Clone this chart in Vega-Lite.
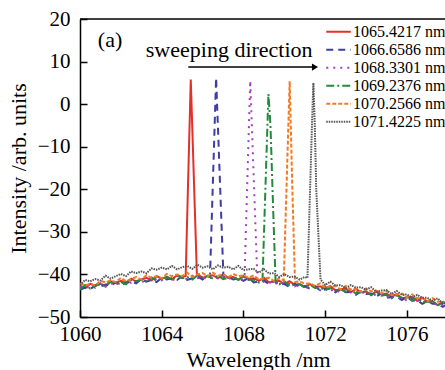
{
 "$schema": "https://vega.github.io/schema/vega-lite/v6.json",
 "width": 365, "height": 298,
 "autosize": {"type": "none"},
 "padding": {"left": 80, "top": 19, "right": 0, "bottom": 53},
 "config": {"font": "Liberation Serif", "view": {"stroke": null}},
 "datasets": {
  "spectra": [
   {"x":1060,"r":-42.7,"b":-43.6,"p":-42.9,"g":-43.5,"o":-42.1,"k":-42.5},
   {"x":1060.25,"r":-43.2,"b":-43.1,"p":-43.2,"g":-42.5,"o":-42.6,"k":-41.3},
   {"x":1060.5,"r":-42.2,"b":-43.5,"p":-42.8,"g":-43.3,"o":-42.2,"k":-41.6},
   {"x":1060.75,"r":-42.7,"b":-42.5,"p":-43.1,"g":-42.7,"o":-42.6,"k":-41.1},
   {"x":1061,"r":-42.2,"b":-42.8,"p":-42.1,"g":-42.2,"o":-41.5,"k":-41.4},
   {"x":1061.25,"r":-42.7,"b":-42.4,"p":-42.9,"g":-42.8,"o":-41.9,"k":-40.3},
   {"x":1061.5,"r":-41.6,"b":-42.7,"p":-42.3,"g":-41.7,"o":-41.4,"k":-41.0},
   {"x":1061.75,"r":-42.0,"b":-41.8,"p":-41.9,"g":-42.3,"o":-41.8,"k":-40.4},
   {"x":1062,"r":-41.5,"b":-42.5,"p":-42.4,"g":-41.8,"o":-40.8,"k":-39.9},
   {"x":1062.25,"r":-41.9,"b":-42.0,"p":-41.4,"g":-42.3,"o":-41.6,"k":-40.4},
   {"x":1062.5,"r":-41.0,"b":-41.6,"p":-42.0,"g":-41.3,"o":-41.1,"k":-39.3},
   {"x":1062.75,"r":-41.7,"b":-42.1,"p":-41.5,"g":-41.6,"o":-40.6,"k":-39.7},
   {"x":1063,"r":-41.2,"b":-41.1,"p":-42.0,"g":-41.2,"o":-41.2,"k":-39.3},
   {"x":1063.25,"r":-40.8,"b":-41.7,"p":-41.0,"g":-41.6,"o":-40.2,"k":-39.7},
   {"x":1063.5,"r":-41.4,"b":-41.3,"p":-41.4,"g":-40.7,"o":-40.8,"k":-38.6},
   {"x":1063.75,"r":-40.4,"b":-41.8,"p":-41.0,"g":-41.5,"o":-40.4,"k":-38.9},
   {"x":1064,"r":-41.0,"b":-40.8,"p":-41.4,"g":-41.0,"o":-40.9,"k":-38.4},
   {"x":1064.25,"r":-40.6,"b":-41.2,"p":-40.5,"g":-40.6,"o":-39.9,"k":-38.8},
   {"x":1064.5,"r":-41.2,"b":-40.9,"p":-41.4,"g":-41.3,"o":-40.4,"k":-38.0},
   {"x":1064.75,"r":-40.2,"b":-41.3,"p":-40.9,"g":-40.3,"o":-40.0,"k":-38.8},
   {"x":1065,"r":-40.6,"b":-40.4,"p":-40.5,"g":-40.9,"o":-40.4,"k":-38.3},
   {"x":1065.17,"r":-40.4},
   {"x":1065.25,"b":-41.3,"p":-41.2,"g":-40.6,"o":-39.6,"k":-38.0},
   {"x":1065.42,"r":5.8},
   {"x":1065.5,"b":-40.9,"p":-40.3,"g":-41.2,"o":-40.5,"k":-38.7},
   {"x":1065.72,"r":-40.2},
   {"x":1065.75,"r":-39.9,"b":-40.5,"p":-40.9,"g":-40.2,"o":-40.0,"k":-37.7},
   {"x":1066,"r":-40.8,"b":-41.2,"p":-40.6,"g":-40.7,"o":-39.7,"k":-38.4},
   {"x":1066.25,"r":-40.4,"b":-40.3,"p":-41.2,"g":-40.4,"o":-40.4,"k":-38.1},
   {"x":1066.36,"b":-40.6},
   {"x":1066.5,"r":-40.2,"p":-40.4,"g":-41.0,"o":-39.6,"k":-38.8},
   {"x":1066.66,"b":6.2},
   {"x":1066.75,"r":-40.9,"p":-40.9,"g":-40.2,"o":-40.3,"k":-37.9},
   {"x":1067,"r":-40.0,"p":-40.6,"g":-41.1,"o":-40.0,"k":-38.4},
   {"x":1067.02,"b":-40.6},
   {"x":1067.25,"r":-40.8,"b":-40.6,"p":-41.2,"g":-40.8,"o":-40.7,"k":-38.2},
   {"x":1067.5,"r":-40.6,"b":-41.2,"p":-40.5,"g":-40.6,"o":-39.9,"k":-38.8},
   {"x":1067.75,"r":-41.2,"b":-40.9,"p":-41.4,"g":-41.3,"o":-40.4,"k":-38.0},
   {"x":1068,"r":-40.4,"b":-41.5,"p":-41.1,"g":-40.5,"o":-40.2,"k":-39.0},
   {"x":1068.05,"p":-40.9},
   {"x":1068.25,"r":-41.0,"b":-40.8,"g":-41.3,"o":-40.8,"k":-38.8},
   {"x":1068.33,"p":5.5},
   {"x":1068.5,"r":-40.9,"b":-41.9,"g":-41.2,"o":-40.2,"k":-38.7},
   {"x":1068.68,"p":-41.1},
   {"x":1068.75,"r":-41.5,"b":-41.6,"p":-41.0,"g":-41.9,"o":-41.2,"k":-39.6},
   {"x":1068.93,"g":-41.3},
   {"x":1069,"r":-40.8,"b":-41.4,"p":-41.8,"o":-40.9,"k":-38.8},
   {"x":1069.22,"g":2.4},
   {"x":1069.25,"r":-41.9,"b":-42.3,"p":-41.7,"o":-40.8,"k":-39.8},
   {"x":1069.32,"g":-5},
   {"x":1069.42,"g":-20},
   {"x":1069.5,"r":-41.6,"b":-41.5,"p":-42.4,"o":-41.6,"k":-39.7},
   {"x":1069.57,"g":-41.7},
   {"x":1069.75,"r":-41.5,"b":-42.4,"p":-41.7,"g":-42.3,"o":-40.9,"k":-40.6},
   {"x":1069.97,"o":-41.4},
   {"x":1070,"r":-42.3,"b":-42.2,"p":-42.3,"g":-41.6,"k":-39.9},
   {"x":1070.25,"r":-41.6,"b":-43.0,"p":-42.2,"g":-42.7,"k":-40.6},
   {"x":1070.26,"o":5.4},
   {"x":1070.38,"o":-18},
   {"x":1070.5,"r":-42.4,"b":-42.2,"p":-42.8,"g":-42.4,"k":-40.5},
   {"x":1070.52,"o":-41.8},
   {"x":1070.75,"r":-42.3,"b":-42.9,"p":-42.2,"g":-42.3,"o":-41.6,"k":-41.2},
   {"x":1071,"r":-43.0,"b":-42.7,"p":-43.2,"g":-43.1,"o":-42.2,"k":-40.6},
   {"x":1071.13,"k":-40.8},
   {"x":1071.25,"r":-42.3,"b":-43.4,"p":-43.0,"g":-42.4,"o":-42.1},
   {"x":1071.35,"k":-5},
   {"x":1071.42,"k":5.0},
   {"x":1071.49,"k":-5},
   {"x":1071.5,"r":-42.9,"b":-42.7,"p":-42.8,"g":-43.2,"o":-42.7},
   {"x":1071.56,"k":-20},
   {"x":1071.75,"r":-42.8,"b":-43.8,"p":-43.7,"g":-43.1,"o":-42.1},
   {"x":1071.77,"k":-41.2},
   {"x":1072,"r":-43.4,"b":-43.5,"p":-42.9,"g":-43.8,"o":-43.1,"k":-42.5},
   {"x":1072.25,"r":-42.7,"b":-43.3,"p":-43.7,"g":-43.0,"o":-42.8,"k":-41.7},
   {"x":1072.5,"r":-43.8,"b":-44.2,"p":-43.6,"g":-43.7,"o":-42.7,"k":-42.6},
   {"x":1072.75,"r":-43.5,"b":-43.4,"p":-44.3,"g":-43.5,"o":-43.5,"k":-42.5},
   {"x":1073,"r":-43.3,"b":-44.2,"p":-43.5,"g":-44.1,"o":-42.7,"k":-43.2},
   {"x":1073.25,"r":-44.2,"b":-44.1,"p":-44.2,"g":-43.5,"o":-43.6,"k":-42.5},
   {"x":1073.5,"r":-43.4,"b":-44.8,"p":-44.0,"g":-44.5,"o":-43.4,"k":-43.1},
   {"x":1073.75,"r":-44.2,"b":-44.0,"p":-44.6,"g":-44.2,"o":-44.1,"k":-43.0},
   {"x":1074,"r":-44.0,"b":-44.6,"p":-43.9,"g":-44.0,"o":-43.3,"k":-43.6},
   {"x":1074.25,"r":-44.8,"b":-44.5,"p":-45.0,"g":-44.9,"o":-44.0,"k":-43.0},
   {"x":1074.5,"r":-44.0,"b":-45.1,"p":-44.7,"g":-44.1,"o":-43.8,"k":-44.1},
   {"x":1074.75,"r":-44.7,"b":-44.5,"p":-44.6,"g":-45.0,"o":-44.5,"k":-43.8},
   {"x":1075,"r":-44.5,"b":-45.5,"p":-45.4,"g":-44.8,"o":-43.8,"k":-43.7},
   {"x":1075.25,"r":-45.2,"b":-45.3,"p":-44.7,"g":-45.6,"o":-44.9,"k":-44.6},
   {"x":1075.5,"r":-44.6,"b":-45.2,"p":-45.6,"g":-44.9,"o":-44.7,"k":-43.9},
   {"x":1075.75,"r":-45.6,"b":-46.0,"p":-45.4,"g":-45.5,"o":-44.5,"k":-44.8},
   {"x":1076,"r":-45.4,"b":-45.3,"p":-46.2,"g":-45.4,"o":-45.4,"k":-44.7},
   {"x":1076.25,"r":-45.3,"b":-46.2,"p":-45.5,"g":-46.1,"o":-44.7,"k":-45.5},
   {"x":1076.5,"r":-46.2,"b":-46.1,"p":-46.2,"g":-45.5,"o":-45.6,"k":-44.8},
   {"x":1076.75,"r":-45.5,"b":-46.9,"p":-46.1,"g":-46.6,"o":-45.5,"k":-45.5},
   {"x":1077,"r":-46.4,"b":-46.2,"p":-46.8,"g":-46.4,"o":-46.3,"k":-45.5},
   {"x":1077.25,"r":-46.3,"b":-46.9,"p":-46.2,"g":-46.3,"o":-45.6,"k":-46.2},
   {"x":1077.5,"r":-47.2,"b":-46.9,"p":-47.4,"g":-47.3,"o":-46.4,"k":-45.6},
   {"x":1077.75,"r":-46.5,"b":-47.6,"p":-47.2,"g":-46.6,"o":-46.3,"k":-46.8},
   {"x":1078,"r":-47.2,"b":-47.0,"p":-47.1,"g":-47.5,"o":-47.0,"k":-46.6}
  ],
  "names": [
   {"key":"r","series":"1065.4217 nm"},
   {"key":"b","series":"1066.6586 nm"},
   {"key":"p","series":"1068.3301 nm"},
   {"key":"g","series":"1069.2376 nm"},
   {"key":"o","series":"1070.2566 nm"},
   {"key":"k","series":"1071.4225 nm"}
  ],
  "notes": [
   {"label":"(a)","x":1061.47,"y":13.4},
   {"label":"sweeping direction","x":1067.3,"y":11.1}
  ],
  "arrow": [
   {"x":1065.3,"x2":1071.5,"y":8.7}
  ],
  "frame": [{"y":20}]
 },
 "layer": [
  {
   "data": {"name": "spectra"},
   "transform": [
    {"fold": ["r","b","p","g","o","k"], "as": ["key","value"]},
    {"filter": "isValid(datum.value)"},
    {"lookup": "key", "from": {"data": {"name": "names"}, "key": "key", "fields": ["series"]}}
   ],
   "mark": {"type": "line", "clip": true},
   "encoding": {
    "x": {"field": "x", "type": "quantitative",
     "scale": {"domain": [1060, 1077.86], "nice": false, "zero": false},
     "axis": {"values": [1060,1064,1068,1072,1076], "format": "d", "title": "Wavelength /nm",
      "grid": false, "tickSize": -7, "tickWidth": 1.5, "tickColor": "black",
      "domainColor": "black", "domainWidth": 1.5,
      "labelFontSize": 21, "labelColor": "black", "labelPadding": 13, "labelFlush": false,
      "titleFontSize": 22, "titleFontWeight": "normal", "titleColor": "black",
      "titleX": 178, "titleY": 49, "titleBaseline": "alphabetic"}},
    "y": {"field": "value", "type": "quantitative",
     "scale": {"domain": [-50, 20], "nice": false},
     "axis": {"values": [-50,-40,-30,-20,-10,0,10,20], "title": "Intensity /arb. units",
      "grid": false, "tickSize": -7, "tickWidth": 1.5, "tickColor": "black",
      "domainColor": "black", "domainWidth": 1.5,
      "labelFontSize": 21, "labelColor": "black", "labelPadding": 17, "labelFlush": false,
      "titleFontSize": 22, "titleFontWeight": "normal", "titleColor": "black",
      "titleX": -62, "titleY": 149, "titleBaseline": "middle"}},
    "color": {"field": "series", "type": "nominal",
     "scale": {"domain": ["1065.4217 nm","1066.6586 nm","1068.3301 nm","1069.2376 nm","1070.2566 nm","1071.4225 nm"],
      "range": ["#e3302b","#3d3da3","#a040c0","#238a3c","#f27a22","#555555"]},
     "legend": {"orient": "none", "legendX": 245, "legendY": 4, "title": null,
      "symbolType": "stroke", "symbolSize": 600, "symbolStrokeWidth": 1.8,
      "labelFontSize": 16, "labelColor": "black", "labelOffset": 1,
      "clipHeight": 17.6, "rowPadding": 0, "padding": 0}},
    "strokeDash": {"field": "series", "type": "nominal",
     "scale": {"domain": ["1065.4217 nm","1066.6586 nm","1068.3301 nm","1069.2376 nm","1070.2566 nm","1071.4225 nm"],
      "range": [[1,0],[7,5],[2,5],[8,3,2,3],[4,2],[1.5,1]]},
     "legend": {"orient": "none", "legendX": 245, "legendY": 4, "title": null,
      "symbolType": "stroke", "symbolSize": 600, "symbolStrokeWidth": 1.8,
      "labelFontSize": 16, "labelColor": "black", "labelOffset": 1,
      "clipHeight": 17.6, "rowPadding": 0, "padding": 0}},
    "strokeWidth": {"field": "series", "type": "nominal",
     "scale": {"domain": ["1065.4217 nm","1066.6586 nm","1068.3301 nm","1069.2376 nm","1070.2566 nm","1071.4225 nm"],
      "range": [2,2,2.4,2,2,1.1]},
     "legend": {"orient": "none", "legendX": 245, "legendY": 4, "title": null,
      "symbolType": "stroke", "symbolSize": 600,
      "labelFontSize": 16, "labelColor": "black", "labelOffset": 1,
      "clipHeight": 17.6, "rowPadding": 0, "padding": 0}}
   }
  },
  {
   "data": {"name": "frame"},
   "mark": {"type": "rule", "color": "black", "strokeWidth": 1.5},
   "encoding": {"y": {"field": "y", "type": "quantitative"}}
  },
  {
   "data": {"name": "notes"},
   "mark": {"type": "text", "fontSize": 22, "baseline": "alphabetic", "align": "center", "color": "black"},
   "encoding": {
    "x": {"field": "x", "type": "quantitative"},
    "y": {"field": "y", "type": "quantitative"},
    "text": {"field": "label"}
   }
  },
  {
   "data": {"name": "arrow"},
   "mark": {"type": "rule", "color": "black", "strokeWidth": 1.5},
   "encoding": {
    "x": {"field": "x", "type": "quantitative"},
    "x2": {"field": "x2"},
    "y": {"field": "y", "type": "quantitative"}
   }
  },
  {
   "data": {"name": "arrow"},
   "mark": {"type": "point", "shape": "triangle-right", "filled": true, "color": "black", "size": 50, "opacity": 1},
   "encoding": {
    "x": {"field": "x2", "type": "quantitative"},
    "y": {"field": "y", "type": "quantitative"}
   }
  }
 ]
}
